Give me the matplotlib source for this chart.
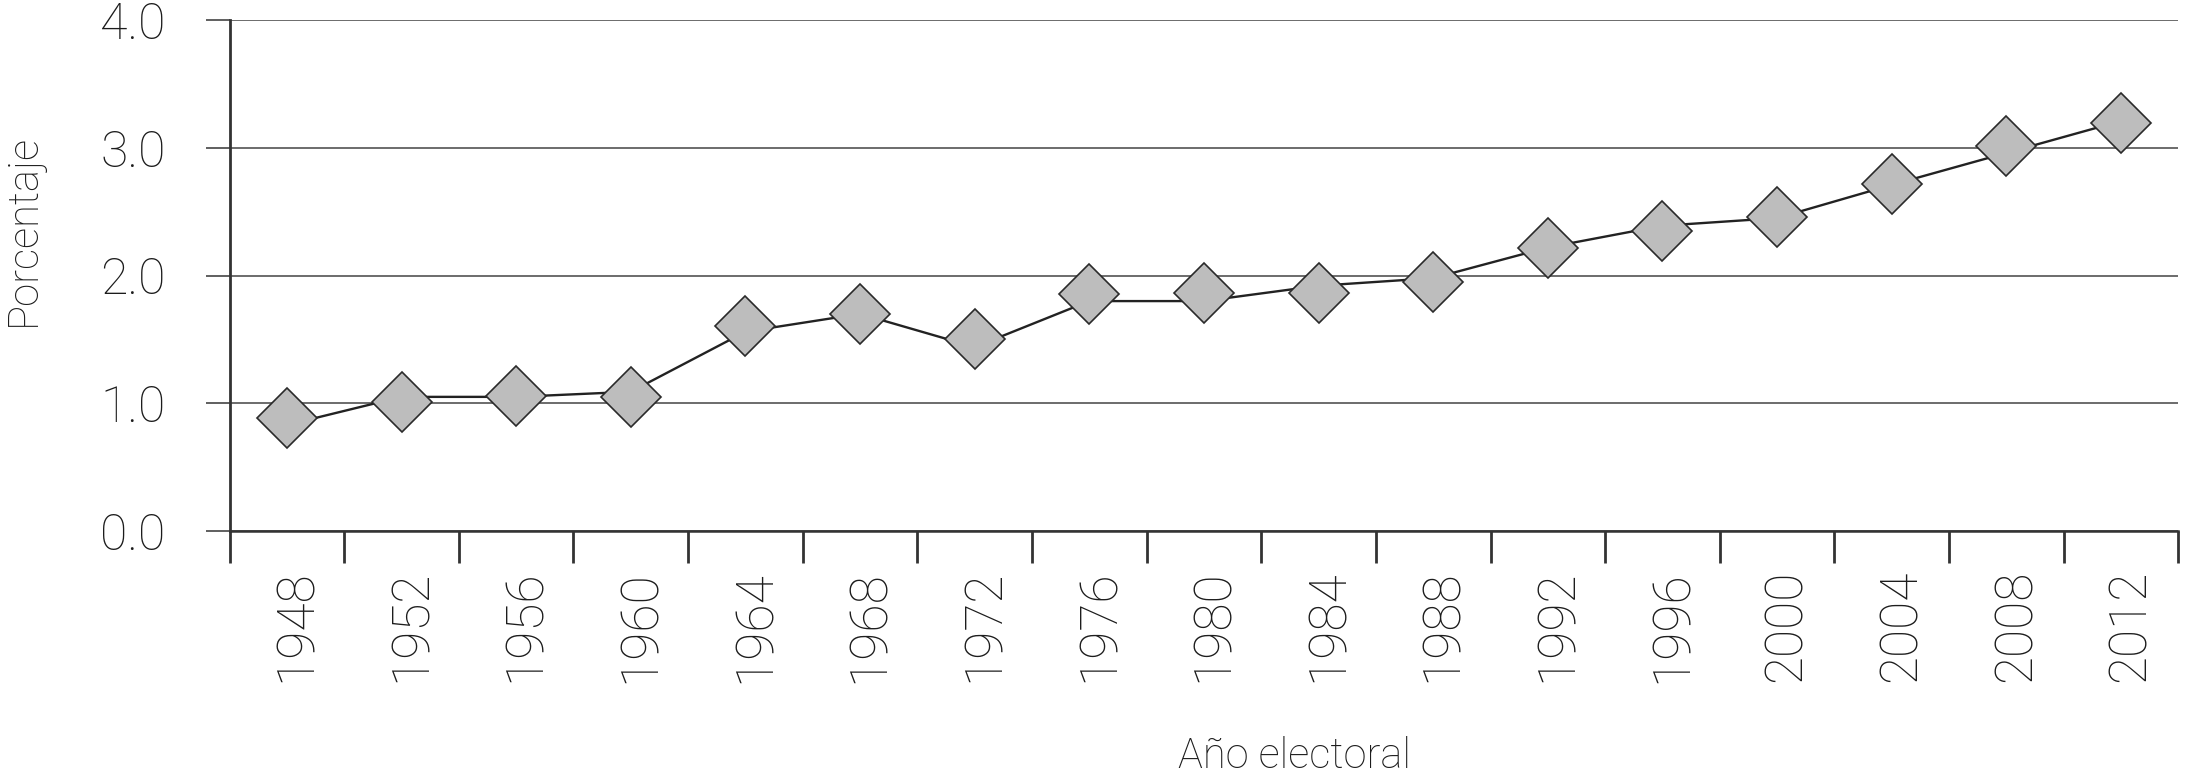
# Porcentaje por año electoral, 1948-2012
import matplotlib
matplotlib.use("Agg")
import matplotlib.pyplot as plt
import matplotlib.transforms as mtransforms

plt.rcParams["font.family"] = ["Roboto", "DejaVu Sans"]
plt.rcParams["font.weight"] = "light"

# ---------- datos ----------
anios = ["1948", "1952", "1956", "1960", "1964", "1968", "1972", "1976", "1980",
         "1984", "1988", "1992", "1996", "2000", "2004", "2008", "2012"]
# valores de la línea
porcentaje_linea = [0.83, 1.05, 1.05, 1.09, 1.56, 1.70, 1.44, 1.80, 1.80,
                    1.92, 1.98, 2.22, 2.39, 2.45, 2.71, 2.96, 3.21]
# valores de los marcadores (rombos)
porcentaje_marca = [0.887, 1.012, 1.057, 1.05, 1.605, 1.697, 1.506, 1.858, 1.861,
                    1.861, 1.946, 2.216, 2.352, 2.46, 2.72, 3.016, 3.196]
y_ticks = [0, 1, 2, 3, 4]
y_labels = ["0.0", "1.0", "2.0", "3.0", "4.0"]

TXT = "#1c1c1c"

fig = plt.figure(figsize=(21.97, 7.74), dpi=100)
ax = fig.add_axes([0.1045, 0.314, 0.887, 0.66])

x = list(range(len(anios)))
ax.plot(x, porcentaje_linea, color="#222222", lw=1.7, zorder=3)
ax.plot(x, porcentaje_marca, ls="none", marker="D", ms=31,
        mfc="#bdbdbd", mec="#2a2a2a", mew=1.2, zorder=4, clip_on=False)

ax.set_xlim(-0.5, len(anios) - 0.5)
ax.set_ylim(0, 4)

# ticks separadores entre categorías
ax.set_xticks([i - 0.5 for i in range(len(anios) + 1)])
ax.set_xticklabels([])
ax.set_xticks(x, minor=True)
ax.set_xticklabels(anios, minor=True, rotation=90, fontsize=37, color=TXT)
ax.tick_params(axis="x", which="major", length=23, width=2, color="#333333")
ax.tick_params(axis="x", which="minor", length=0, pad=28)
off = mtransforms.ScaledTranslation(10 / 100, 0, fig.dpi_scale_trans)
for lbl in ax.get_xticklabels(minor=True):
    lbl.set_transform(lbl.get_transform() + off)

ax.set_yticks(y_ticks)
ax.set_yticklabels(y_labels, fontsize=36, color=TXT)
ax.tick_params(axis="y", length=17, width=1.2, color="#444444", pad=29)
ax.yaxis.grid(True, color="#444444", lw=1.1)
ax.set_axisbelow(True)

for s in ["top", "right"]:
    ax.spines[s].set_visible(False)
ax.spines["left"].set_linewidth(2)
ax.spines["left"].set_color("#333333")
ax.spines["bottom"].set_linewidth(1.8)
ax.spines["bottom"].set_color("#333333")

fig.text(23 / 2197, 1 - 230 / 774, "Porcentaje", rotation=90, ha="center",
         va="center", fontsize=30, color=TXT)
fig.text(1295 / 2197, 6 / 774, "Año electoral", ha="center", va="baseline",
         fontsize=30, color=TXT)

fig.savefig("out.png", dpi=100)
